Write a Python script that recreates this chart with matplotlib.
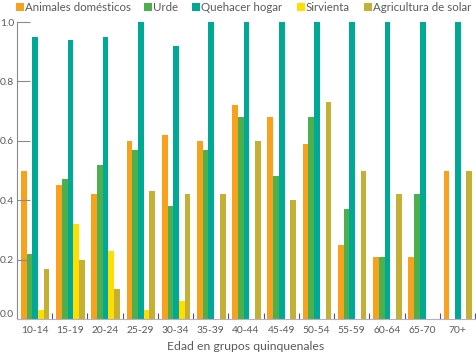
import numpy as np
import matplotlib.pyplot as plt
from matplotlib.patches import Rectangle

groups = ["10-14", "15-19", "20-24", "25-29", "30-34", "35-39", "40-44",
          "45-49", "50-54", "55-59", "60-64", "65-70", "70+"]
animales = [0.50, 0.45, 0.42, 0.60, 0.62, 0.60, 0.72, 0.68, 0.59, 0.25, 0.21, 0.21, 0.50]
urde = [0.22, 0.47, 0.52, 0.57, 0.38, 0.57, 0.68, 0.48, 0.68, 0.37, 0.21, 0.42, 0.0]
quehacer = [0.95, 0.94, 0.95, 1.0, 0.92, 1.0, 1.0, 1.0, 1.0, 1.0, 1.0, 1.0, 1.0]
sirvienta = [0.03, 0.32, 0.23, 0.03, 0.06, 0, 0, 0, 0, 0, 0, 0, 0]
agricultura = [0.17, 0.20, 0.10, 0.43, 0.42, 0.42, 0.60, 0.40, 0.73, 0.50, 0.42, 0.0, 0.50]

series = [("Animales domésticos", animales, "#f7a11c"),
          ("Urde", urde, "#4db04f"),
          ("Quehacer hogar", quehacer, "#00a896"),
          ("Sirvienta", sirvienta, "#ffde00"),
          ("Agricultura de solar", agricultura, "#c4b034")]

plt.rcParams['font.family'] = ['Lato', 'DejaVu Sans']
txt = "#5a5a5a"
W, H = 476, 353

fig = plt.figure(figsize=(W / 100, H / 100), dpi=100)
ax = fig.add_axes([17 / W, 1 - 319 / H, 458 / W, 297 / H])

x = np.arange(len(groups))
w = 0.162
for i, (name, vals, col) in enumerate(series):
    ax.bar(x + (i - 2) * w + 0.015, vals, width=w, color=col, label=name, linewidth=0)

ax.set_xlim(-0.5, len(groups) - 0.5)
ax.set_ylim(0, 1.0)
ax.set_xticks(x)
ax.set_xticklabels(groups)
ax.set_xticks(np.arange(len(groups)) + 0.5, minor=True)
ax.tick_params(axis='x', which='major', length=0, labelsize=7.4, labelcolor=txt, pad=5)
ax.tick_params(axis='x', which='minor', length=4, direction='in', color="#5d4d7a", width=0.8)
ax.set_yticks([0, 0.2, 0.4, 0.6, 0.8, 1.0])
ax.set_yticklabels(["0.0", "0.2", "0.4", "0.6", "0.8", "1.0"])
ax.tick_params(axis='y', length=9, direction='in', color="#8a8a8a", width=0.8,
               labelsize=7.4, labelcolor=txt, pad=2)
ax.get_yticklabels()[0].set_va('bottom')

for s in ['top', 'right']:
    ax.spines[s].set_visible(False)
ax.spines['left'].set_color("#8a8a8a")
ax.spines['left'].set_linewidth(0.8)
ax.spines['bottom'].set_color("#b8b0c8")
ax.spines['bottom'].set_linewidth(0.8)

ax.set_xlabel("Edad en grupos quinquenales", fontsize=8.8, color=txt, labelpad=4)

# legend row across the top, laid out by hand
legend_x = [16, 144, 192, 297, 364]
for lx, (name, vals, col) in zip(legend_x, series):
    fig.add_artist(Rectangle((lx / W, 1 - 11 / H), 8 / W, 8 / H,
                             transform=fig.transFigure, color=col, lw=0))
    fig.text((lx + 9) / W, 1 - 7.5 / H, name, fontsize=8.3, color=txt,
             va='center', ha='left')

fig.savefig("out.png", dpi=100)
